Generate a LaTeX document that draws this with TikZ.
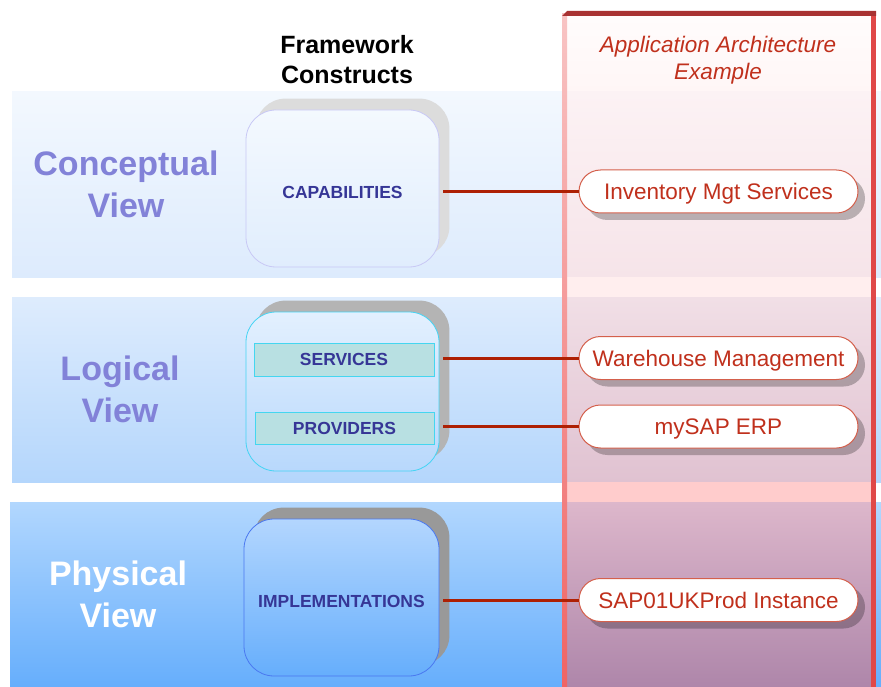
\documentclass[tikz,border=0pt]{standalone}
\usepackage{fontspec}
\setmainfont{Liberation Sans}
\usetikzlibrary{shadows,calc}

\definecolor{viewblue}{HTML}{8282D8}
\definecolor{labelblue}{HTML}{363696}
\definecolor{appred}{HTML}{C0301C}
\definecolor{linkred}{HTML}{AE2004}
\definecolor{pillborder}{HTML}{D4604C}
\definecolor{coltop}{HTML}{A83232}
\definecolor{colright}{HTML}{E04848}
\definecolor{colleftA}{HTML}{F8C4C4}
\definecolor{colleftB}{HTML}{F06464}
\definecolor{shadowA}{HTML}{DCDCDC}
\definecolor{shadowB}{HTML}{B4B4B4}
\definecolor{shadowC}{HTML}{999999}
% band shading
\definecolor{bandAtop}{HTML}{F3F8FE}
\definecolor{bandAbot}{HTML}{DDEBFD}
\definecolor{bandBtop}{HTML}{DEECFD}
\definecolor{bandBbot}{HTML}{B4D6FC}
\definecolor{bandCtop}{HTML}{B2D7FE}
\definecolor{bandCbot}{HTML}{66AEFC}
% tinted example column, segment by segment
\definecolor{colAtop}{HTML}{FFFCFC}
\definecolor{colAbot}{HTML}{FFF6F6}
\definecolor{colBtop}{HTML}{FCF2F4}
\definecolor{colBbot}{HTML}{F6E4E9}
\definecolor{colgapA}{HTML}{FFEEEE}
\definecolor{colCtop}{HTML}{F1DFE6}
\definecolor{colCbot}{HTML}{E0C2D1}
\definecolor{colgapB}{HTML}{FFCCCC}
\definecolor{colDtop}{HTML}{DDB7CB}
\definecolor{colDbot}{HTML}{AE86AA}
% construct boxes
\definecolor{capline}{HTML}{C8C8F5}
\definecolor{captop}{HTML}{F4F9FE}
\definecolor{capbot}{HTML}{E0EDFD}
\definecolor{logline}{HTML}{44D4F4}
\definecolor{logtop}{HTML}{E3F0FE}
\definecolor{logbot}{HTML}{B8D8FC}
\definecolor{impline}{HTML}{4A78F0}
\definecolor{imptop}{HTML}{B3D6FE}
\definecolor{impbot}{HTML}{66AEFC}
\definecolor{layline}{HTML}{44D6F0}
\definecolor{layfill}{HTML}{B8E0E2}

\pgfdeclarelayer{bands}
\pgfdeclarelayer{under}
\pgfsetlayers{bands,under,main}

\tikzset{
  viewtext/.style={align=center, font=\fontsize{34}{42}\selectfont\bfseries},
  headtext/.style={align=center, font=\fontsize{25}{30}\selectfont\bfseries},
  apphead/.style={align=center, text=appred, font=\fontsize{22.5}{27}\selectfont\itshape},
  construct/.style={rounded corners=30pt, line width=0.8pt, minimum width=193pt,
    minimum height=157pt, inner sep=0pt, text=labelblue, text height=19.5pt, text depth=0pt,
    font=\fontsize{17.5}{20}\selectfont\bfseries},
  layerbox/.style={draw=layline, fill=layfill, line width=0.8pt, minimum width=180pt,
    minimum height=33pt, inner sep=0pt, text=labelblue, text height=12.5pt, text depth=0pt,
    font=\fontsize{17.5}{20}\selectfont\bfseries},
  pill/.style={draw=pillborder, line width=1pt, fill=white, rounded corners=21.5pt,
    minimum width=279pt, minimum height=43pt, inner sep=0pt, text=appred,
    text height=16.1pt, text depth=0pt, font=\fontsize{22.5}{26}\selectfont,
    drop shadow={shadow xshift=7pt, shadow yshift=-7pt, fill=black, opacity=0.25}},
  link/.style={draw=linkred, line width=3pt, shorten <=4pt},
}

\begin{document}
\begin{tikzpicture}[x=1pt, y=-1pt]
\useasboundingbox (0,0) rectangle (881,687);

% horizontal view bands
\begin{pgfonlayer}{bands}
  \shade[top color=bandAtop, bottom color=bandAbot] (12,92) rectangle (881,277);
  \shade[top color=bandBtop, bottom color=bandBbot] (12,297) rectangle (881,482);
  \shade[top color=bandCtop, bottom color=bandCbot] (10,502) rectangle (881,687);
\end{pgfonlayer}

% view titles
\node[viewtext, text=viewblue] (vconc) at (126,184) {Conceptual\\View};
\node[viewtext, text=viewblue] (vlog) at (120,389) {Logical\\View};
\node[viewtext, text=white] (vphys) at (118,594) {Physical\\View};

\node[headtext] (fc) at (347,60) {Framework\\Constructs};

% framework constructs
\node[construct, draw=capline, top color=captop, bottom color=capbot]
  (cap) at (342.5,188.5) {CAPABILITIES};
\node[construct, draw=logline, minimum height=159pt, top color=logtop, bottom color=logbot]
  (log) at (342.5,391.5) {};
\node[construct, draw=impline, minimum width=195pt, top color=imptop, bottom color=impbot]
  (impl) at (341.5,597.5) {IMPLEMENTATIONS};

\node[layerbox] (srv) at (344,359.5) {SERVICES};
\node[layerbox, minimum width=179pt, minimum height=32pt] (prov) at (344.5,428) {PROVIDERS};

\begin{pgfonlayer}{under}
  % construct shadows
  \fill[shadowA, rounded corners=30pt] ([shift={(10pt,11pt)}]cap.south west) rectangle ([shift={(10pt,11pt)}]cap.north east);
  \fill[shadowB, rounded corners=30pt] ([shift={(10pt,11pt)}]log.south west) rectangle ([shift={(10pt,11pt)}]log.north east);
  \fill[shadowC, rounded corners=30pt] ([shift={(10pt,11pt)}]impl.south west) rectangle ([shift={(10pt,11pt)}]impl.north east);
  % tinted example column
  \shade[top color=colAtop, bottom color=colAbot] (567,16) rectangle (871,92);
  \shade[top color=colBtop, bottom color=colBbot] (567,92) rectangle (871,277);
  \fill[colgapA] (567,277) rectangle (871,297);
  \shade[top color=colCtop, bottom color=colCbot] (567,297) rectangle (871,482);
  \fill[colgapB] (567,482) rectangle (871,502);
  \shade[top color=colDtop, bottom color=colDbot] (567,502) rectangle (871,687);
\end{pgfonlayer}

% column frame
\shade[top color=colleftA, bottom color=colleftB] (562,14) rectangle (567,687);
\fill[colright] (871,14) rectangle (876,687);
\fill[coltop] (562,16) -- (567,11) -- (876,11) -- (876,16) -- cycle;

\node[apphead] (ahead) at (718,60.5) {Application Architecture\\Example};

% application elements
\node[pill] (inv) at (718.5,191.5) {Inventory Mgt Services};
\node[pill] (wh) at (718.5,358) {Warehouse Management};
\node[pill] (erp) at (718.5,426.5) {mySAP ERP};
\node[pill] (inst) at (718.5,600) {SAP01UKProd Instance};

% connectors
\draw[link] (cap.east |- inv.west) -- (inv.west);
\draw[link] (log.east |- wh.west) -- (wh.west);
\draw[link] (log.east |- erp.west) -- (erp.west);
\draw[link] (impl.east |- inst.west) -- (inst.west);
\end{tikzpicture}
\end{document}
